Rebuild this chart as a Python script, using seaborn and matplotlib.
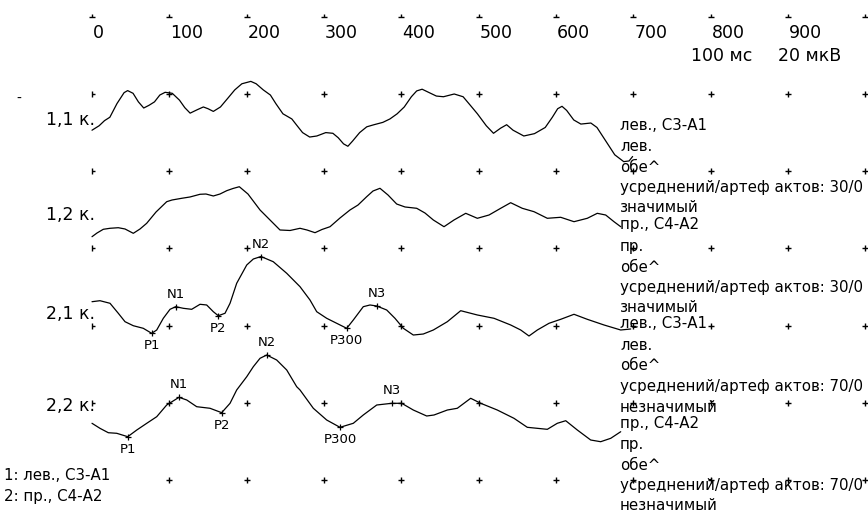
import numpy as np
import matplotlib
matplotlib.use("Agg")
import matplotlib.pyplot as plt
from matplotlib.path import Path
import seaborn as sns

# ---------------- data ----------------
time_ticks = [0, 100, 200, 300, 400, 500, 600, 700, 800, 900]
tick_labels = ["0", "100", "200", "300", "400", "500", "600", "700", "800", "900"]
grid_cols_ms = [0, 100, 200, 300, 400, 500, 600, 700, 800, 900, 1000]
grid_rows_uv = [0, -20, -40, -60, -80, -100]
top_tick_uv = 20
scale_labels = ["100 мс", "20 мкВ"]

trace_names = ["1,1 к.", "1,2 к.", "2,1 к.", "2,2 к."]
trace_offsets = [0, -20, -40, -60]

t11 = [0, 9.2, 16.2, 23.1, 32.3, 41.5, 46.1, 53.1, 60.0, 66.9, 73.8, 80.8, 87.7, 94.6, 103.8,
       113.1, 120.0, 126.9, 136.1, 144.0, 150.0, 156.9, 166.1, 175.4, 184.6, 193.8, 205.4,
       212.3, 221.5, 230.7, 237.7, 246.9, 258.4, 265.3, 272.3, 281.5, 290.7, 302.3, 311.5,
       318.4, 325.3, 330.9, 336.9, 346.1, 355.3, 364.6, 376.1, 385.3, 394.6, 403.8, 413.0,
       419.9, 426.9, 436.1, 445.3, 454.5, 468.4, 479.9, 489.2, 498.4, 509.9, 519.2, 528.4,
       536.2, 544.5, 558.4, 572.2, 586.1, 595.3, 602.2, 607.8, 613.8, 623.0, 632.2, 645.1,
       653.0, 664.5, 676.0, 687.6, 694.5, 699.1]
a11 = [-9.38, -8.23, -6.90, -6.02, -2.48, 0.35, 0.88, 0.18, -2.04, -3.63, -2.92, -2.04, -0.27,
       0.44, 0.18, -1.59, -3.54, -4.96, -4.07, -3.36, -3.81, -4.51, -3.36, -1.15, 1.06, 2.65,
       3.27, 2.65, 1.06, -0.27, -2.48, -5.13, -6.46, -8.23, -10.0, -11.15, -10.88, -10.0,
       -10.18, -11.33, -12.92, -13.54, -12.21, -10.0, -8.50, -7.96, -7.35, -6.46, -5.13,
       -3.36, -0.71, 0.80, 1.24, 0.35, -0.53, -0.71, 0.0, -0.71, -2.92, -5.13, -8.23, -10.18,
       -8.85, -7.96, -9.38, -10.88, -10.27, -8.67, -6.02, -3.81, -3.19, -4.25, -6.73, -7.79,
       -7.52, -8.67, -12.21, -15.75, -17.52, -17.35, -16.19]

t12 = [0, 6.5, 14.6, 23.3, 34.0, 42.7, 53.4, 62.1, 70.7, 82.8, 96.6, 103.5, 116.0, 126.7,
       139.7, 147.4, 156.9, 165.5, 174.2, 182.3, 190.5, 201.7, 217.3, 230.2, 243.1, 256.1,
       269.0, 278.0, 288.4, 297.4, 307.8, 320.7, 333.6, 344.0, 355.2, 363.4, 372.4, 382.8,
       394.0, 404.8, 419.9, 430.6, 441.4, 455.2, 468.1, 483.3, 498.3, 513.4, 528.5, 541.4,
       556.4, 571.6, 588.8, 606.1, 623.3, 640.5, 653.4, 664.3, 675.0, 683.7]
a12 = [-16.97, -16.01, -15.05, -14.79, -14.64, -14.97, -16.09, -14.97, -13.50, -10.57, -7.90,
       -7.46, -7.02, -6.68, -5.98, -5.91, -6.42, -5.91, -5.05, -4.48, -4.02, -5.91, -10.05,
       -12.64, -15.23, -15.36, -14.79, -15.23, -15.93, -15.10, -14.38, -12.12, -10.05, -8.76,
       -6.61, -5.13, -4.43, -6.17, -8.50, -9.27, -9.61, -10.83, -12.64, -14.38, -12.64,
       -10.91, -12.20, -11.35, -9.61, -8.16, -9.61, -10.49, -12.20, -11.94, -13.08, -12.20,
       -10.91, -11.35, -13.08, -14.38]

t21 = [0, 10.3, 23.3, 34.0, 42.7, 53.4, 66.3, 77.2, 83.7, 92.2, 100.9, 108.2, 118.1, 128.9,
       139.7, 148.3, 156.9, 163.3, 172.0, 178.5, 187.1, 200.1, 208.6, 218.5, 234.4, 251.8,
       269.0, 281.9, 290.6, 303.5, 316.4, 329.4, 337.9, 350.8, 359.5, 368.2, 381.1, 391.8,
       402.6, 415.5, 428.4, 441.4, 459.5, 476.8, 498.3, 519.9, 541.4, 554.4, 565.1, 575.9,
       591.0, 606.1, 623.3, 640.5, 662.1, 683.7, 696.6]
a21 = [-13.81, -13.55, -14.22, -16.81, -18.99, -20.03, -20.70, -22.0, -21.14, -18.11, -15.78,
       -15.10, -15.52, -15.78, -14.48, -14.66, -16.40, -17.44, -16.81, -14.22, -9.04, -4.30,
       -2.75, -2.10, -3.45, -6.45, -9.92, -13.37, -16.40, -18.11, -19.40, -20.70, -18.55,
       -15.10, -14.66, -14.92, -15.96, -18.11, -20.70, -22.44, -22.18, -21.14, -18.99,
       -16.14, -17.25, -18.11, -19.84, -21.14, -22.69, -21.14, -19.40, -18.37, -17.07,
       -18.37, -19.84, -21.14, -20.88]

t22 = [0, 10.3, 21.1, 32.0, 46.2, 57.9, 70.8, 83.7, 96.6, 112.5, 122.5, 135.4, 152.6, 167.7,
       178.5, 187.1, 200.1, 208.6, 217.3, 225.9, 238.8, 251.8, 264.7, 269.0, 286.2, 303.5,
       320.7, 337.9, 350.8, 368.2, 387.6, 400.5, 415.5, 432.8, 442.3, 459.5, 472.4, 489.7,
       502.7, 524.1, 545.7, 562.9, 588.8, 601.7, 612.6, 627.6, 644.9, 657.8, 670.8, 683.7]
a22 = [-25.31, -26.61, -27.75, -27.90, -28.78, -27.05, -25.31, -23.60, -20.57, -18.58, -19.27,
       -21.01, -21.42, -22.56, -20.13, -16.68, -13.24, -10.65, -8.47, -7.62, -8.91, -11.50,
       -15.83, -16.68, -21.42, -24.46, -26.35, -25.31, -23.16, -20.57, -20.13, -20.13,
       -21.87, -23.42, -23.16, -21.87, -21.42, -18.83, -20.13, -21.87, -24.02, -26.35,
       -26.87, -25.31, -24.64, -27.05, -29.64, -30.08, -29.20, -27.49]

peak_names = ["P1", "N1", "P2", "N2", "P300", "N3"]
peaks_21_ms = [77.2, 108.2, 163.3, 218.5, 329.4, 368.2]
peaks_22_ms = [46.2, 112.5, 167.7, 225.9, 320.7, 387.6]

info_blocks = [
    ["лев., С3-А1", "лев.", "обе^", "усреднений/артеф актов: 30/0", "значимый"],
    ["пр., С4-А2", "пр.", "обе^", "усреднений/артеф актов: 30/0", "значимый"],
    ["лев., С3-А1", "лев.", "обе^", "усреднений/артеф актов: 70/0", "незначимый"],
    ["пр., С4-А2", "пр.", "обе^", "усреднений/артеф актов: 70/0", "незначимый"],
]
legend_lines = ["1: лев., С3-А1", "2: пр., С4-А2"]

# ---------------- drawing ----------------
sns.set_theme(style="white")
plt.rcParams["font.family"] = ["DejaVu Sans"]
plt.rcParams["text.color"] = "black"

W, H = 868, 511
fig = plt.figure(figsize=(W / 100, H / 100), dpi=100)
ax = fig.add_axes([0, 0, 1, 1])
ax.set_axis_off()

PX_PER_MS = 0.7733
PX_PER_UV = 3.86
X0_PX, Y0_PX = 92, 94
ax.set_xlim((0 - X0_PX) / PX_PER_MS, (W - X0_PX) / PX_PER_MS)
ax.set_ylim((Y0_PX - H) / PX_PER_UV, Y0_PX / PX_PER_UV)


def fx(px):
    return px / W


def fy(py):
    return 1 - py / H


mk_left = Path([[0, -1], [0, 1], [0, 0], [1, 0]],
               [Path.MOVETO, Path.LINETO, Path.MOVETO, Path.LINETO])
mk_top = Path([[-1, 0], [1, 0], [0, 0], [0, 1]],
              [Path.MOVETO, Path.LINETO, Path.MOVETO, Path.LINETO])

# grid crosses
for r, yv in enumerate(grid_rows_uv):
    for c, xv in enumerate(grid_cols_ms):
        if c == 0 and r == len(grid_rows_uv) - 1:
            continue
        m = mk_left if c == 0 else "+"
        ax.plot([xv], [yv], linestyle="none", marker=m, markersize=5.0,
                markeredgewidth=1.0, color="black")
for xv in grid_cols_ms:
    ax.plot([xv], [top_tick_uv], linestyle="none", marker=mk_top, markersize=4.5,
            markeredgewidth=1.0, color="black")

# tick labels
for xv, lab in zip(time_ticks, tick_labels):
    xp = X0_PX + xv * PX_PER_MS
    fig.text(fx(xp + 1), fy(33), lab, fontsize=12.5, ha="left", va="center", color="black")
fig.text(fx(722), fy(56), scale_labels[0], fontsize=12.5, ha="center", va="center", color="black")
fig.text(fx(810), fy(56), scale_labels[1], fontsize=12.5, ha="center", va="center", color="black")
fig.text(fx(19), fy(99), "-", fontsize=10, ha="center", va="center", color="black")

# traces
traces = [(t11, a11), (t12, a12), (t21, a21), (t22, a22)]
for (t, a), off in zip(traces, trace_offsets):
    sns.lineplot(x=t, y=np.asarray(a) + off, ax=ax, color="black", linewidth=0.9,
                 sort=False, estimator=None)

label_py = [120, 215, 314, 406]
for name, py in zip(trace_names, label_py):
    fig.text(fx(95), fy(py), name, fontsize=12.5, ha="right", va="center", color="black")

# peaks
for (t, a), off, pk in [((t21, a21), trace_offsets[2], peaks_21_ms),
                        ((t22, a22), trace_offsets[3], peaks_22_ms)]:
    for nm, ms in zip(peak_names, pk):
        yv = np.interp(ms, t, a) + off
        ax.plot([ms], [yv], linestyle="none", marker="+", markersize=4.0,
                markeredgewidth=0.9, color="black")
        dy = 9 if nm.startswith("N") else -9
        ax.annotate(nm, (ms, yv), xytext=(0, dy), textcoords="offset points",
                    ha="center", va="center", fontsize=9.5, color="black")

# right-side info text
block_py = [125, 225, 324, 423]
line_dy = [0, 21.5, 42, 62.5, 83]
for bpy, block in zip(block_py, info_blocks):
    for dy, s in zip(line_dy, block):
        fig.text(fx(620), fy(bpy + dy), s, fontsize=10.8, ha="left", va="center",
                 color="black")

# bottom-left legend
for py, s in zip([475, 496], legend_lines):
    fig.text(fx(4), fy(py), s, fontsize=10.8, ha="left", va="center", color="black")

fig.savefig("out.png", dpi=100, facecolor="white")
